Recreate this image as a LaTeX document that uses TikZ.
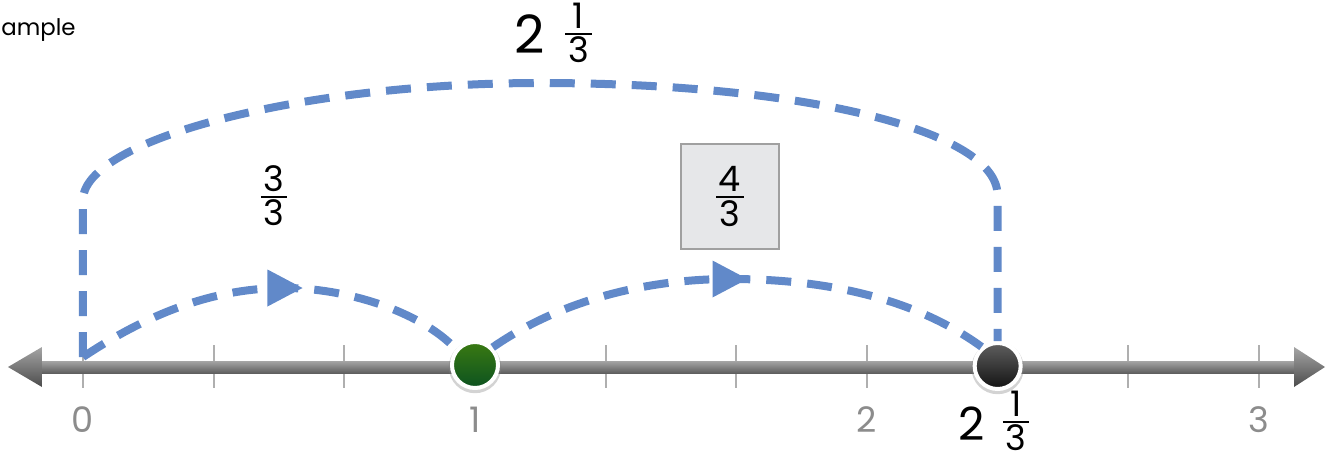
\documentclass[tikz,border=0pt]{standalone}
\usepackage{amsmath}
\usepackage{fontspec}
\setmainfont{Poppins}
\usetikzlibrary{arrows.meta,calc,positioning,shadows}
\definecolor{jumpblue}{RGB}{97,137,201}
\definecolor{axisgray}{RGB}{140,140,140}
\definecolor{tickgray}{RGB}{175,175,175}
\definecolor{barlight}{RGB}{165,165,165}
\definecolor{bardark}{RGB}{95,95,95}
\definecolor{boxfill}{RGB}{230,231,233}
\definecolor{boxline}{RGB}{160,160,160}
\definecolor{greentop}{RGB}{58,122,18}
\definecolor{greenbot}{RGB}{12,82,32}
\definecolor{blacktop}{RGB}{95,95,95}
\definecolor{blackbot}{RGB}{18,18,18}

\newcommand{\fracnum}[2]{${\mbox{\hspace{0.08em}#1\hspace{0.08em}}\above1.1pt\mbox{\hspace{0.08em}#2\hspace{0.08em}}}$}
\newcommand{\mixednum}[3]{#1\hspace{0.35em}\raisebox{0.2em}{\fontsize{20}{24}\selectfont\fracnum{#2}{#3}}}

\begin{document}
\begin{tikzpicture}[
    jump/.style={jumpblue,line width=0.16cm,dash pattern=on 0.5cm off 0.32cm},
    axislabel/.style={axisgray,font=\fontsize{20}{24}\selectfont,inner sep=0pt},
    fraclabel/.style={font=\fontsize{20}{24}\selectfont,inner sep=0pt},
    dotmark/.style={circle,minimum size=0.92cm,inner sep=0pt,draw=white,
        line width=0.08cm,drop shadow={opacity=0.35,shadow scale=1.14,
        shadow xshift=0pt,shadow yshift=-1pt}},
  ]
  \useasboundingbox (-1.66,-1.8) rectangle (24.94,7.34);
  \def\unit{7.84}

  % Oś liczbowa
  \foreach \k in {0,...,9}{
      \draw[tickgray,line width=0.04cm]
          ({\k*\unit/3},0.44) -- ({\k*\unit/3},-0.42);
  }
  \shade[top color=barlight,bottom color=bardark]
      (-0.86,0.12) rectangle (24.24,-0.12);
  \shade[top color=barlight,bottom color=bardark!80!black]
      (-1.5,0) -- (-0.82,0.4) -- (-0.82,-0.4) -- cycle;
  \shade[top color=barlight,bottom color=bardark!80!black]
      (24.84,0) -- (24.22,0.4) -- (24.22,-0.4) -- cycle;

  \foreach \n in {0,1,2,3}{
      \node[axislabel] (num\n) at ({\n*\unit},-1.06) {\n};
  }

  % Punkty na osi
  \node[dotmark,top color=greentop,bottom color=greenbot]
      (greendot) at (\unit,0.04) {};
  \node[dotmark,top color=blacktop,bottom color=blackbot]
      (blackdot) at ({7*\unit/3},0.02) {};

  % Skoki
  \coordinate (zero) at (0,0.2);
  \coordinate (peakA) at (4.04,1.58);
  \coordinate (peakB) at (12.94,1.76);
  \coordinate (topA) at (9.14,5.68);

  \draw[jump] (zero) .. controls (1.5,1.2) and (2.8,1.58) .. (peakA)
      .. controls (5.2,1.58) and (6.7,1.15) .. (greendot.140);
  \draw[jump] (greendot.45) .. controls (9.5,1.3) and (11.2,1.76) .. (peakB)
      .. controls (14.8,1.76) and (16.6,1.4) .. (blackdot.130);
  \draw[jump] (zero) -- (0,3.34)
      .. controls (0,4.54) and (4.34,5.68) .. (topA)
      .. controls (14.34,5.68) and (18.29,4.74) .. (18.29,3.44)
      -- (blackdot.north);

  \fill[jumpblue,shift={(peakA)}] (-0.35,0.37) -- (0.35,0) -- (-0.35,-0.37) -- cycle;
  \fill[jumpblue,shift={(peakB)}] (-0.35,0.37) -- (0.35,0) -- (-0.35,-0.37) -- cycle;

  % Opisy
  \node[fraclabel] (threethirds) at (3.82,3.42) {\fracnum{3}{3}};
  \node[fraclabel,draw=boxline,fill=boxfill,line width=0.05cm,
      minimum width=1.96cm,minimum height=2.1cm]
      (fourthirds) at (12.94,3.41) {\fracnum{4}{3}};

  \node[font=\fontsize{30}{34}\selectfont,inner sep=0pt]
      (totaljump) at (9.42,6.68) {\mixednum{2}{1}{3}};
  \node[font=\fontsize{26}{30}\selectfont,inner sep=0pt]
      (endlabel) at (18.24,-1.08) {\mixednum{2}{1}{3}};

  \node[anchor=west,font=\fontsize{13}{15}\selectfont,inner sep=0pt]
      (titlecut) at (-1.64,6.73) {ample};

\end{tikzpicture}
\end{document}
